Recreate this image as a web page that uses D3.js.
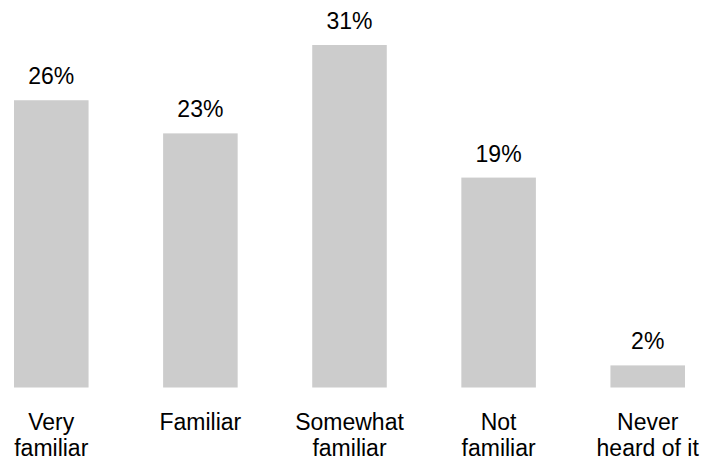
<!DOCTYPE html>
<html>
<head>
<meta charset="utf-8">
<script src="https://cdn.jsdelivr.net/npm/d3@7"></script>
<style>
  html, body { margin: 0; padding: 0; background: #fff; }
  svg { display: block; font-family: Arial, "Liberation Sans", sans-serif; }
</style>
</head>
<body>
<svg id="chart" width="706" height="461"></svg>
<script>
// Familiarity responses (percent of respondents)
const categories = ["Very familiar", "Familiar", "Somewhat familiar", "Not familiar", "Never heard of it"];
const categoryLines = [["Very", "familiar"], ["Familiar"], ["Somewhat", "familiar"], ["Not", "familiar"], ["Never", "heard of it"]];
const values = [26, 23, 31, 19, 2];
const valueLabels = ["26%", "23%", "31%", "19%", "2%"];

const svg = d3.select("#chart");

const x = d3.scaleBand()
  .domain(categories)
  .range([14, 685])
  .paddingInner(0.5)
  .paddingOuter(0);

const y = d3.scaleLinear()
  .domain([0, 31])
  .range([387.5, 45]);

const data = categories.map((c, i) => ({ cat: c, value: values[i], label: valueLabels[i], lines: categoryLines[i] }));

// bars
svg.append("g").selectAll("rect")
  .data(data)
  .join("rect")
  .attr("x", d => x(d.cat))
  .attr("y", d => y(d.value))
  .attr("width", x.bandwidth())
  .attr("height", d => y(0) - y(d.value))
  .attr("fill", "#cccccc");

// value labels above bars
svg.append("g").selectAll("text")
  .data(data)
  .join("text")
  .attr("x", d => x(d.cat) + x.bandwidth() / 2)
  .attr("y", d => y(d.value) - 16)
  .attr("text-anchor", "middle")
  .attr("font-size", 23)
  .attr("fill", "#000")
  .text(d => d.label);

// category labels (wrapped over two lines where needed)
const cats = svg.append("g").selectAll("text")
  .data(data)
  .join("text")
  .attr("text-anchor", "middle")
  .attr("font-size", 23)
  .attr("fill", "#000");

cats.selectAll("tspan")
  .data(d => d.lines.map(l => ({ line: l, cx: x(d.cat) + x.bandwidth() / 2 })))
  .join("tspan")
  .attr("x", d => d.cx)
  .attr("y", (d, i) => 430 + i * 26)
  .text(d => d.line);
</script>
</body>
</html>
